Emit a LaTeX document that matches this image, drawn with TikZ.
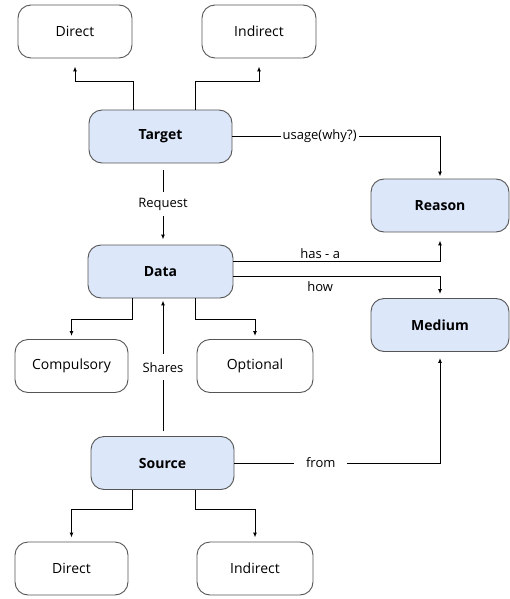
\documentclass[tikz,border=0pt]{standalone}
\usepackage{fontspec}
\setmainfont{Open Sans}
\usetikzlibrary{arrows.meta}
\definecolor{boxline}{HTML}{555555}
\definecolor{boxfill}{HTML}{DCE7FA}
\tikzset{
  leaf/.style={draw=boxline,line width=0.9pt,rounded corners=13pt,minimum height=53pt,inner sep=0pt,font=\fontsize{14}{16}\selectfont},
  hub/.style={leaf,fill=boxfill,font=\fontsize{14}{16}\selectfont\bfseries},
  arr/.style={-{Latex[length=5pt,width=4pt]},line width=1pt},
  lbl/.style={fill=white,inner sep=2pt,font=\fontsize{13}{15}\selectfont}
}
\begin{document}
\begin{tikzpicture}[x=1pt,y=-1pt]
\useasboundingbox (0,0) rectangle (510,599);

% main boxes
\node[hub,minimum width=143pt] (target) at (160.5,136.5) {Target};
\node[hub,minimum width=145pt] (data) at (160.5,271.5) {Data};
\node[hub,minimum width=143pt] (source) at (162.5,463) {Source};
\node[hub,minimum width=138pt] (reason) at (440,205.5) {Reason};
\node[hub,minimum width=138pt] (medium) at (440,325) {Medium};

% leaves
\node[leaf,minimum width=114pt] (tdirect) at (75,31.5) {Direct};
\node[leaf,minimum width=114pt] (tindirect) at (259,31.5) {Indirect};
\node[leaf,minimum width=113pt] (comp) at (71.5,366) {Compulsory};
\node[leaf,minimum width=116pt] (opt) at (255,366) {Optional};
\node[leaf,minimum width=113pt] (sdirect) at (71.5,568.5) {Direct};
\node[leaf,minimum width=116pt] (sindirect) at (255,568.5) {Indirect};

% target
\draw[arr,shorten >=8pt] ([xshift=-27.5pt]target.north) -- ++(0,-28) -| (tdirect.south);
\draw[arr,shorten >=8pt] ([xshift=34.5pt]target.north) -- ++(0,-28) -| (tindirect.south);
\draw[arr,shorten <=7pt,shorten >=5pt] ([xshift=2.5pt]target.south) -- ([xshift=2.5pt]data.north)
  node[lbl,midway,inner ysep=6pt] {Request};
\draw[arr,shorten >=2pt] (target.east) -| (reason.north)
  node[lbl,pos=0.21] {usage(why?)};

% data
\draw[arr,shorten >=8pt] ([yshift=10pt]data.east) -| (reason.south)
  node[lbl,pos=0.21,above,fill=none] {has - a};
\draw[arr,shorten >=4pt] ([yshift=-5pt]data.east) -| (medium.north)
  node[lbl,pos=0.21,below,fill=none,yshift=-3pt] {how};
\draw[arr,shorten >=3pt] ([xshift=-28.5pt]data.south) -- ++(0,21) -| (comp.north);
\draw[arr,shorten >=3pt] ([xshift=34.5pt]data.south) -- ++(0,21) -| (opt.north);

% source
\draw[arr,shorten <=5pt,shorten >=2pt] ([xshift=0.5pt]source.north) -- ([xshift=2.5pt]data.south)
  node[lbl,midway,inner ysep=8pt] {Shares};
\draw[arr,shorten >=6pt] (source.east) -| (medium.south)
  node[lbl,pos=0.21,inner xsep=12pt] {from};
\draw[arr,shorten >=4pt] ([xshift=-30.5pt]source.south) -- ++(0,20) -| (sdirect.north);
\draw[arr,shorten >=4pt] ([xshift=32.5pt]source.south) -- ++(0,20) -| (sindirect.north);

\end{tikzpicture}
\end{document}
